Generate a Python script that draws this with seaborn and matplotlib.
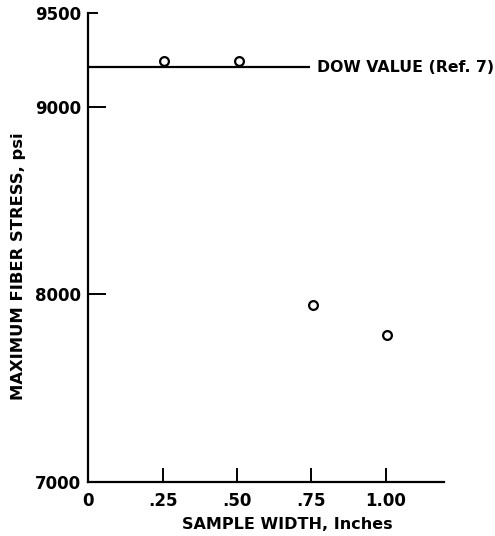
import numpy as np
import pandas as pd
import seaborn as sns
import matplotlib.pyplot as plt

# values
sample_width = [0.255, 0.507, 0.755, 1.003]
max_stress = [9246, 9246, 7941, 7786]
dow_value = 9210
dow_line_end = 0.745

x_ticks = [0, 0.25, 0.50, 0.75, 1.00]
x_tick_labels = ["0", ".25", ".50", ".75", "1.00"]
y_ticks = [7000, 8000, 9000, 9500]
y_tick_labels = ["7000", "8000", "9000", "9500"]

sns.set_style("ticks")
plt.rcParams['font.family'] = ['DejaVu Sans']
plt.rcParams['font.weight'] = 'bold'
plt.rcParams['text.color'] = 'black'
plt.rcParams['axes.labelcolor'] = 'black'
plt.rcParams['xtick.color'] = 'black'
plt.rcParams['ytick.color'] = 'black'
plt.rcParams['axes.edgecolor'] = 'black'

df = pd.DataFrame({"width": sample_width, "stress": max_stress})

fig = plt.figure(figsize=(4.95, 5.36), dpi=100)
ax = fig.add_axes([0.178, 0.1007, 0.719, 0.875])

ax.hlines(dow_value, 0, dow_line_end, color="black", linewidth=1.6)
sns.scatterplot(data=df, x="width", y="stress", ax=ax, marker="o", s=40,
                facecolor="white", edgecolor="black", linewidth=1.6, zorder=3)
ax.text(dow_line_end + 0.025, dow_value, "DOW VALUE (Ref. 7)", va="center",
        ha="left", fontsize=11.3, fontweight="bold")

ax.set_xlim(0, 1.195)
ax.set_ylim(7000, 9500)
ax.set_xticks(x_ticks)
ax.set_xticklabels(x_tick_labels)
ax.set_yticks(y_ticks)
ax.set_yticklabels(y_tick_labels)
ax.tick_params(axis="both", direction="in", width=1.4, labelsize=12)
ax.tick_params(axis="y", length=13, pad=5)
ax.tick_params(axis="x", length=10, pad=7)
# the tick at the top of the axis is shorter
ax.yaxis.get_major_ticks()[3].tick1line.set_markersize(7)

sns.despine(ax=ax)
for side in ["left", "bottom"]:
    ax.spines[side].set_linewidth(1.6)

ax.set_xlabel("SAMPLE WIDTH, Inches", fontsize=11.5, fontweight="bold")
ax.set_ylabel("MAXIMUM FIBER STRESS, psi", fontsize=11.8, fontweight="bold")
ax.xaxis.set_label_coords(0.56, -0.075)
ax.yaxis.set_label_coords(-0.175, 0.46)

plt.savefig("out.png", dpi=100)
plt.close()
